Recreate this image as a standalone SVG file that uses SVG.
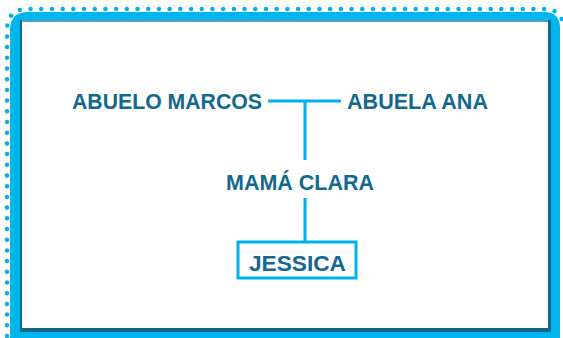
<svg xmlns="http://www.w3.org/2000/svg" width="563" height="338" viewBox="0 0 563 338">
<style>
.t{font-family:"Comic Sans MS","Liberation Sans",sans-serif;font-size:22px;font-weight:bold;fill:#13688f}
.c{stroke:#00b1ec;stroke-width:3;fill:none}
</style>
<rect width="563" height="338" fill="#ffffff"/>
<g id="frame">
<path d="M7,336 Q7,334 7,326 L7,30 Q7,9 28,9 L545,9 Q558,9 563,22" fill="none" stroke="#00b1ec" stroke-width="4.5" stroke-linecap="round" stroke-dasharray="0 10.7"/>
<path d="M10,338 L10,30 Q10,12 28,12 L544,12 Q560,12 560,28 L560,338 Z" fill="#00b4ee"/>
<rect x="20" y="20" width="531" height="312" fill="#0d6a8c"/>
<rect x="22" y="22" width="526" height="306" fill="#ffffff"/>
<line x1="22" y1="21" x2="548" y2="21" stroke="#8fd6f2" stroke-width="1"/>
</g>
<g id="connectors">
<line class="c" x1="268" y1="101" x2="341" y2="101"/>
<line class="c" x1="305" y1="101" x2="305" y2="160"/>
<line class="c" x1="305" y1="198" x2="305" y2="242"/>
</g>
<g id="abuelo-marcos"><text class="t" x="72" y="109" textLength="190" lengthAdjust="spacingAndGlyphs">ABUELO MARCOS</text></g>
<g id="abuela-ana"><text class="t" x="347" y="109" textLength="141" lengthAdjust="spacingAndGlyphs">ABUELA ANA</text></g>
<g id="mama-clara"><text class="t" x="226" y="190" textLength="148" lengthAdjust="spacingAndGlyphs">MAMÁ CLARA</text></g>
<g id="jessica">
<rect class="c" x="238" y="242" width="118" height="36"/>
<text class="t" x="249" y="271" textLength="97" lengthAdjust="spacingAndGlyphs">JESSICA</text>
</g>
</svg>
